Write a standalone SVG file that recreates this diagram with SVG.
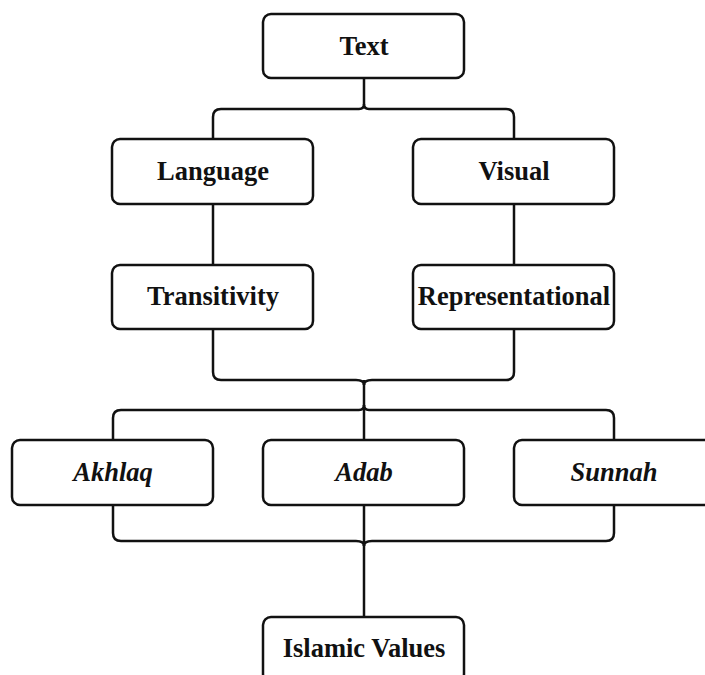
<svg xmlns="http://www.w3.org/2000/svg" width="705" height="675" viewBox="0 0 705 675">
<style>
.box{fill:#fff;stroke:#111;stroke-width:2.5}
.lbl{font-family:"Liberation Serif","Times New Roman",serif;font-weight:bold;font-size:26.5px;fill:#111;text-anchor:middle}
.it{font-style:italic}
.con{fill:none;stroke:#111;stroke-width:2.5}
</style>
<rect width="705" height="675" fill="#fff"/>
<g id="connectors" class="con">
<path d="M364,78 V104 Q364,109 359,109 H221 Q213,109 213,117 V139"/>
<path d="M364,104 Q364,109 369,109 H506 Q514,109 514,117 V139"/>
<path d="M213,204 V265"/>
<path d="M514,204 V265"/>
<path d="M213,329 V372 Q213,380 221,380 H356 Q364,380 364,385"/>
<path d="M514,329 V372 Q514,380 506,380 H372 Q364,380 364,385"/>
<path d="M364,380 V440"/>
<path d="M364,405 Q364,410 359,410 H121 Q113,410 113,418 V440"/>
<path d="M364,405 Q364,410 369,410 H606 Q614,410 614,418 V440"/>
<path d="M113,505 V533 Q113,541 121,541 H356 Q364,541 364,546"/>
<path d="M614,505 V533 Q614,541 606,541 H372 Q364,541 364,546"/>
<path d="M364,505 V617"/>
</g>
<g id="n-text"><rect class="box" x="263" y="14" width="201" height="64" rx="8"/><text class="lbl" x="364" y="55">Text</text></g>
<g id="n-language"><rect class="box" x="112" y="139" width="201" height="65" rx="8"/><text class="lbl" x="213" y="180">Language</text></g>
<g id="n-visual"><rect class="box" x="413" y="139" width="201" height="65" rx="8"/><text class="lbl" x="514" y="180">Visual</text></g>
<g id="n-transitivity"><rect class="box" x="112" y="265" width="201" height="64" rx="8"/><text class="lbl" x="213" y="305">Transitivity</text></g>
<g id="n-representational"><rect class="box" x="413" y="265" width="201" height="64" rx="8"/><text class="lbl" x="514" y="305">Representational</text></g>
<g id="n-akhlaq"><rect class="box" x="12" y="440" width="201" height="65" rx="8"/><text class="lbl it" x="113" y="481">Akhlaq</text></g>
<g id="n-adab"><rect class="box" x="263" y="440" width="201" height="65" rx="8"/><text class="lbl it" x="364" y="481">Adab</text></g>
<g id="n-sunnah"><rect class="box" x="514" y="440" width="201" height="65" rx="8"/><text class="lbl it" x="614" y="481">Sunnah</text></g>
<g id="n-islamic"><rect class="box" x="263" y="617" width="201" height="65" rx="8"/><text class="lbl" x="364" y="657">Islamic Values</text></g>
</svg>
